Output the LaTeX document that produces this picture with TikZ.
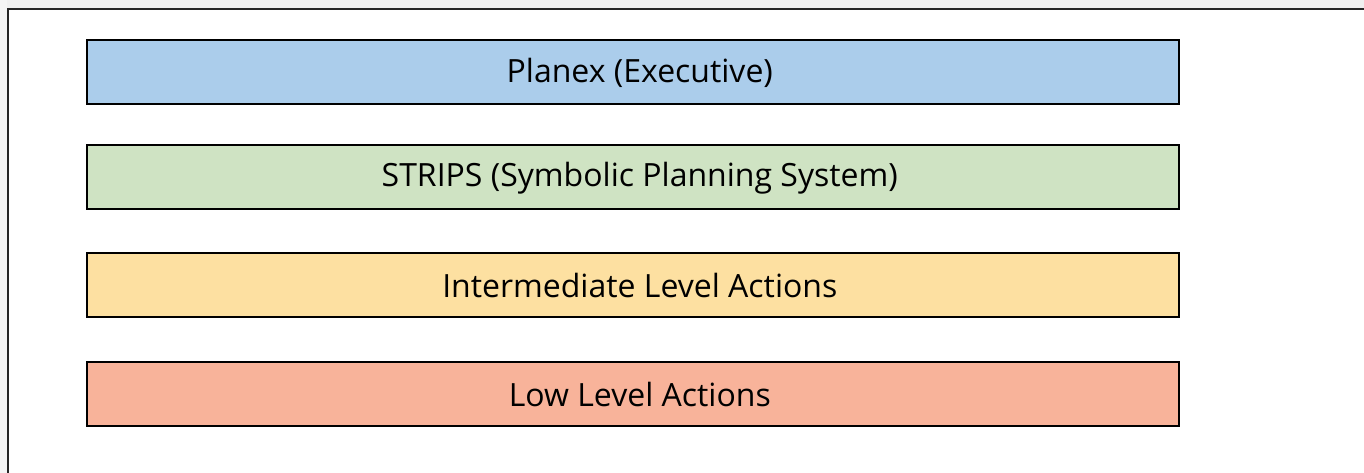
\documentclass[tikz,border=0pt]{standalone}
\usepackage{fontspec}
\setmainfont{Open Sans}
\definecolor{cblue}{HTML}{ABCDEB}
\definecolor{cgreen}{HTML}{CFE3C3}
\definecolor{cyellow}{HTML}{FDE0A1}
\definecolor{cred}{HTML}{F8B39A}
\begin{document}
\begin{tikzpicture}[x=1pt,y=-1pt,
  layer/.style={draw=black,line width=1.6pt,minimum width=1092pt,minimum height=64pt,inner sep=0pt,anchor=north west},
  lbl/.style={font=\fontsize{32}{36}\selectfont,inner sep=0pt}]
\useasboundingbox (0,0) rectangle (1364,473);
\fill[black!6] (0,0) rectangle (1364,8);
\fill[black!4] (0,0) rectangle (7,473);
\fill[white] (8,9) rectangle (1364,473);
\draw[line width=1.5pt,black!85] (8,473) -- (8,9) -- (1364,9);
\foreach \y/\c/\n in {39/cblue/a,144/cgreen/b,252/cyellow/c,361/cred/d}{
  \fill[black!45] (88,\y+2) rectangle (1180,\y+66);
  \node[layer,fill=\c] (\n) at (86,\y) {};
}
\node[lbl] (ta) at ([xshift=7pt,yshift=-1pt]a.center) {Planex (Executive)};
\node[lbl] (tb) at ([xshift=7pt,yshift=-1pt]b.center) {STRIPS (Symbolic Planning System)};
\node[lbl] (tc) at ([xshift=7pt,yshift=-1pt]c.center) {Intermediate Level Actions};
\node[lbl] (td) at ([xshift=7pt,yshift=-1pt]d.center) {Low Level Actions};
\end{tikzpicture}
\end{document}
